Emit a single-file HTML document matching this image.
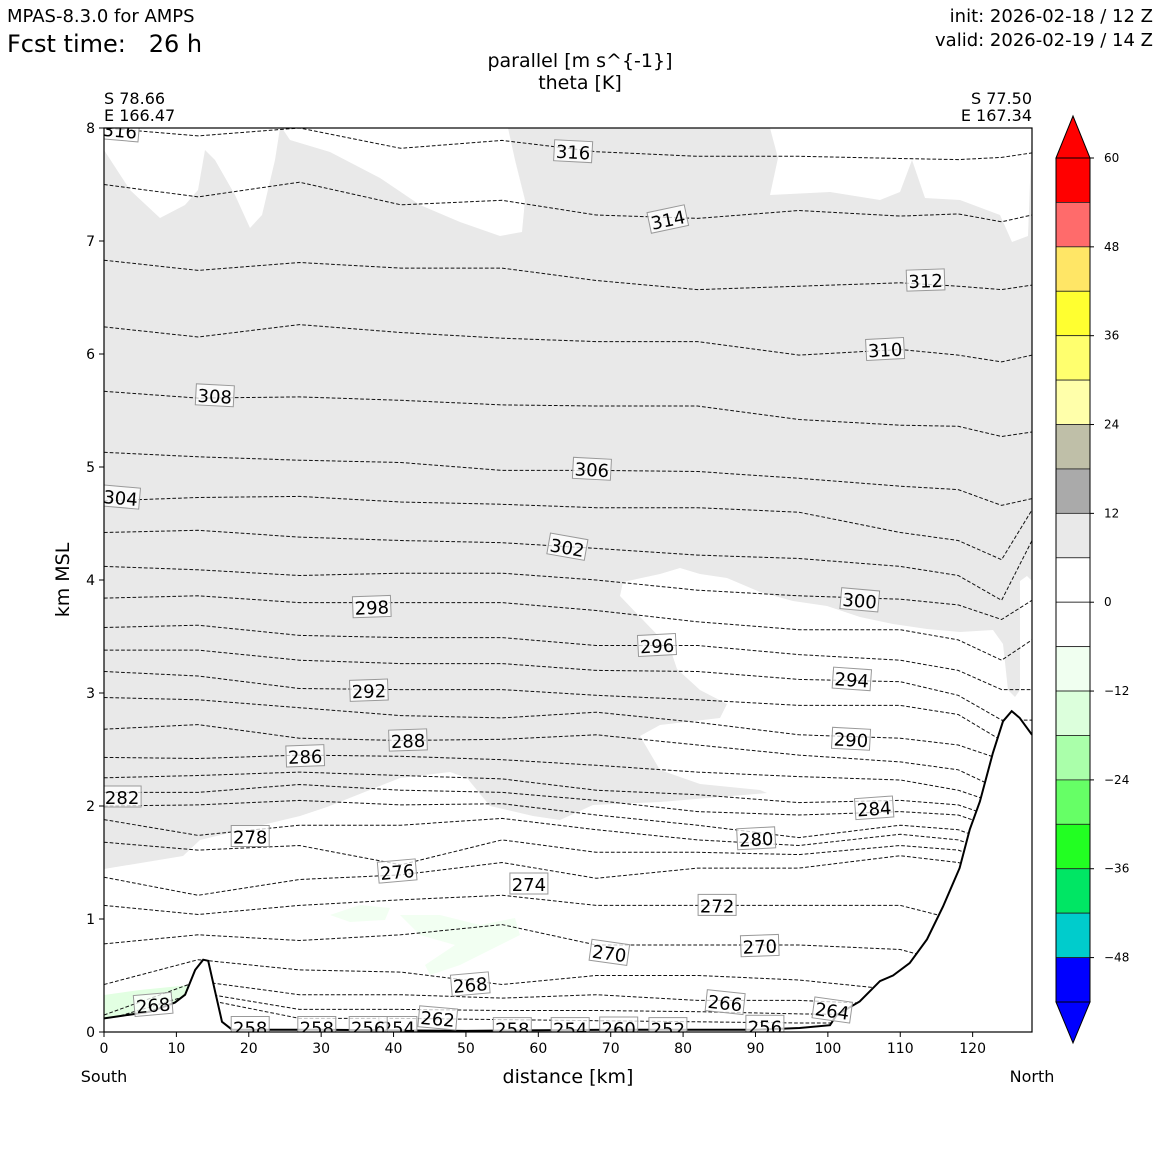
<!DOCTYPE html>
<html><head><meta charset="utf-8"><style>
body{margin:0;background:#fff;}
svg{display:block;font-family:"DejaVu Sans","Liberation Sans",sans-serif;}
</style></head><body>
<svg id="chart" width="1160" height="1160" viewBox="0 0 1160 1160">
<text x="7" y="22" font-size="18">MPAS-8.3.0 for AMPS</text>
<text x="7" y="52" font-size="24" xml:space="preserve">Fcst time:   26 h</text>
<text x="1153" y="22" font-size="18" text-anchor="end">init: 2026-02-18 / 12 Z</text>
<text x="1153" y="46" font-size="18" text-anchor="end">valid: 2026-02-19 / 14 Z</text>
<text x="580" y="67" font-size="19" text-anchor="middle">parallel [m s^{-1}]</text>
<text x="580" y="89" font-size="19" text-anchor="middle">theta [K]</text>
<text x="104" y="104" font-size="16">S 78.66</text>
<text x="104" y="121" font-size="16">E 166.47</text>
<text x="1032" y="104" font-size="16" text-anchor="end">S 77.50</text>
<text x="1032" y="121" font-size="16" text-anchor="end">E 167.34</text>
<text x="69" y="580" font-size="19" text-anchor="middle" transform="rotate(-90 69 580)">km MSL</text>
<text x="568" y="1083" font-size="19" text-anchor="middle">distance [km]</text>
<text x="104" y="1082" font-size="16" text-anchor="middle">South</text>
<text x="1032" y="1082" font-size="16" text-anchor="middle">North</text>
<g id="plot"></g>
<g id="axes"></g>
<g id="cbar"></g>
</svg>
<script>
// ---- data ----
const colX = [0,13,27,41,55,68,82,96,110,118,124,128.2];
const thetaLevels = [316,314,312,310,308,306,304,302,300,298,296,294,292,290,288,286,284,282,280,278,276,274,272,270,268,266,264,262];
const theta316 = [8.0,7.93,8.0,7.82,7.89,7.79,7.75,7.75,7.73,7.72,7.74,7.78];
const theta314 = [7.50,7.39,7.52,7.32,7.36,7.23,7.20,7.27,7.22,7.24,7.17,7.23];
const theta312 = [6.83,6.74,6.81,6.76,6.76,6.65,6.57,6.60,6.63,6.60,6.57,6.61];
const theta310 = [6.24,6.15,6.26,6.19,6.14,6.11,6.11,5.99,6.04,5.99,5.93,5.99];
const theta308 = [5.67,5.61,5.62,5.59,5.55,5.54,5.54,5.42,5.37,5.36,5.27,5.31];
const theta306 = [5.13,5.09,5.06,5.04,4.97,4.97,4.96,4.90,4.83,4.80,4.66,4.72];
const theta304 = [4.70,4.73,4.74,4.69,4.67,4.64,4.64,4.60,4.42,4.35,4.18,4.62];
const theta302 = [4.42,4.44,4.38,4.35,4.33,4.28,4.22,4.19,4.12,4.04,3.82,4.35];
const theta300 = [4.12,4.09,4.04,4.06,4.06,4.00,3.91,3.86,3.83,3.78,3.65,3.82];
const theta298 = [3.84,3.86,3.80,3.80,3.80,3.73,3.63,3.56,3.56,3.47,3.29,3.47];
const theta296 = [3.58,3.60,3.51,3.49,3.49,3.42,3.42,3.34,3.29,3.20,3.03,3.03];
const theta294 = [3.38,3.38,3.29,3.26,3.26,3.20,3.19,3.12,3.10,2.98,2.76,2.76];
const theta292 = [3.19,3.15,3.04,3.03,3.03,2.98,2.94,2.89,2.89,2.81,2.58,2.55];
const theta290 = [2.96,2.94,2.87,2.80,2.78,2.83,2.74,2.63,2.60,2.54,2.41,2.40];
const theta288 = [2.68,2.72,2.60,2.58,2.59,2.63,2.54,2.45,2.39,2.32,2.14,2.10];
const theta286 = [2.43,2.42,2.45,2.44,2.41,2.36,2.30,2.26,2.23,2.14,2.01,2.00];
const theta284 = [2.25,2.27,2.30,2.27,2.24,2.14,2.10,2.03,2.05,2.01,1.88,1.85];
const theta282 = [2.12,2.12,2.19,2.14,2.12,2.05,1.95,1.92,1.95,1.92,1.79,1.75];
const theta280 = [2.00,2.01,2.05,2.01,2.02,1.92,1.83,1.72,1.83,1.79,1.65,1.60];
const theta278 = [1.88,1.74,1.83,1.83,1.89,1.79,1.70,1.65,1.75,1.70,1.57,1.50];
const theta276 = [1.68,1.61,1.65,1.48,1.70,1.59,1.59,1.57,1.65,1.61,1.48,1.40];
const theta274 = [1.37,1.21,1.35,1.39,1.50,1.36,1.45,1.45,1.56,1.50,1.39,1.30];
const theta272 = [1.12,1.04,1.12,1.17,1.21,1.12,1.12,1.12,1.12,0.99,0.90,0.90];
const theta270 = [0.78,0.86,0.81,0.86,0.95,0.77,0.77,0.77,0.73,0.59,0.55,0.50];
const theta268 = [0.42,0.64,0.55,0.53,0.42,0.50,0.50,0.46,0.37,0.28,0.25,0.25];
const theta266 = [0.15,0.45,0.33,0.33,0.30,0.33,0.28,0.28,0.24,0.20,0.20,0.20];
const theta264 = [0.10,0.35,0.20,0.20,0.19,0.19,0.18,0.16,0.15,0.12,0.12,0.12];
const theta262 = [0.08,0.30,0.12,0.12,0.11,0.10,0.09,0.08,0.08,0.08,0.08,0.08];
const thetaSeries = [theta316,theta314,theta312,theta310,theta308,theta306,theta304,theta302,theta300,theta298,theta296,theta294,theta292,theta290,theta288,theta286,theta284,theta282,theta280,theta278,theta276,theta274,theta272,theta270,theta268,theta266,theta264,theta262];
const terrainX = [0,6.4,9.8,11.2,12.6,13.7,14.4,15.3,16.3,17.7,30,50,70,90,96.1,100.3,101.2,104.4,107.2,109,111.3,113.7,115.9,118.2,119.6,121,122.8,124.2,125.4,126.5,128.2];
const terrainH = [0.12,0.18,0.26,0.33,0.55,0.64,0.63,0.37,0.09,0.02,0.02,0.01,0.02,0.02,0.035,0.06,0.15,0.27,0.45,0.50,0.61,0.82,1.11,1.45,1.79,2.04,2.47,2.75,2.84,2.78,2.63];
const labelText = ["316","316","314","312","310","308","306","304","302","300","298","296","294","292","290","288","286","284","282","280","278","276","274","272","270","270","268","268","266","264","262","258","258","254","256","258","254","260","252","256"];
const labelX = [2.2,64.8,77.9,113.5,107.9,15.3,67.4,2.3,64.0,104.4,37.0,76.4,103.3,36.6,103.2,42.0,27.8,106.4,2.5,90.1,20.2,40.5,58.7,84.7,69.8,90.6,50.6,6.8,85.8,100.6,46.1,20.2,29.4,40.6,36.5,56.4,64.4,71.1,77.9,91.3];
const labelY = [7.98,7.79,7.19,6.65,6.04,5.63,4.98,4.73,4.29,3.82,3.76,3.42,3.12,3.02,2.59,2.58,2.44,1.98,2.08,1.71,1.73,1.42,1.31,1.12,0.70,0.76,0.42,0.24,0.26,0.19,0.12,0.04,0.04,0.04,0.04,0.03,0.03,0.035,0.03,0.05];
const labelRot = [5,3,-12,-2,-3,3,3,5,10,5,-2,-3,4,-2,3,-2,-2,-4,0,-3,0,-5,0,0,8,-2,-5,-5,6,8,5,0,0,0,0,0,0,0,0,0];
const xTicks = [0,10,20,30,40,50,60,70,80,90,100,110,120];
const yTicks = [0,1,2,3,4,5,6,7,8];
const cbarLevels = [60,54,48,42,36,30,24,18,12,6,0,-6,-12,-18,-24,-30,-36,-42,-48,-54];
const cbarColors = ["#ff0000","#ff6b6b","#ffe666","#ffff30","#ffff6e","#ffffaa","#bfbfa8","#aaaaaa","#e9e9e9","#ffffff","#ffffff","#f0fff0","#dcffdc","#aaffaa","#66ff66","#22ff22","#00e664","#00cccc","#0000ff"];
const cbarTicks = [60,48,36,24,12,0,-12,-24,-36,-48];

// ---- scales ----
const X0=104,X1=1032,Y0=1032,Y1=128,XMAX=128.2,YMAX=8;
const sx = v => X0 + v*(X1-X0)/XMAX;
const sy = v => Y0 - v*(Y0-Y1)/YMAX;
const NS="http://www.w3.org/2000/svg";
function mk(tag, attrs, parent){const e=document.createElementNS(NS,tag);for(const k in attrs)e.setAttribute(k,attrs[k]);parent.appendChild(e);return e;}
const plot=document.getElementById('plot');
const axes=document.getElementById('axes');
const cbar=document.getElementById('cbar');

const defs=mk('defs',{},plot);
const cp=mk('clipPath',{id:'pc'},defs);
mk('rect',{x:X0,y:Y1,width:X1-X0,height:Y0-Y1},cp);
const g=mk('g',{'clip-path':'url(#pc)'},plot);

const bg=mk('rect',{x:X0,y:Y1,width:X1-X0,height:Y0-Y1,fill:'#e9e9e9'},g);


const whites=[
 "104,128 104,150 130,190 160,218 185,205 198,190 205,150 215,160 235,195 250,228 262,215 275,160 280,128",
 "282,128 290,140 330,152 380,178 420,205 460,222 500,236 522,232 525,200 515,160 508,128",
 "770,128 778,158 770,195 830,192 880,200 900,192 912,160 925,198 960,200 1000,215 1012,242 1028,236 1032,128",
 "104,869 183,856 200,840 300,816 327,807 400,778 450,772 467,778 490,806 533,816 560,820 593,805 660,802 767,793 760,790 700,784 660,770 640,736 660,725 720,718 727,704 700,690 677,669 670,648 643,620 620,596 623,582 660,574 680,568 700,574 727,578 760,592 793,601 827,606 860,617 893,624 927,629 960,632 993,630 1003,644 1008,690 1015,697 1020,690 1020,581 1027,576 1032,581 1032,1032 104,1032"
];
whites.forEach((p,i)=>{const e=mk('polygon',{points:p,fill:'#ffffff'},g);
 
 });
const greens=[
 ["104,995 140,990 190,985 205,990 200,1005 150,1012 104,1018","#e2ffe2"],
 ["330,915 360,905 390,908 385,920 350,922","#f2fff2"],
 ["400,915 440,915 480,925 515,918 520,935 490,950 460,965 430,975 425,965 455,945 420,935","#f2fff2"]
];
greens.forEach((p,i)=>{const e=mk('polygon',{points:p[0],fill:p[1]},g);
 
 });

thetaSeries.forEach((arr,i)=>{
 const pts=arr.map((v,j)=>sx(colX[j]).toFixed(1)+','+sy(v).toFixed(1)).join(' ');
 const e=mk('polyline',{points:pts,fill:'none',stroke:'#111','stroke-width':1,'stroke-dasharray':'3.7,2'},g);
 
 
});

let tp=terrainX.map((v,j)=>sx(v).toFixed(1)+','+sy(terrainH[j]).toFixed(1)).join(' ');
const tf=mk('polygon',{points:sx(0)+','+Y0+' '+tp+' '+sx(XMAX)+','+Y0,fill:'#fff'},g);


const tl=mk('polyline',{points:tp,fill:'none',stroke:'#000','stroke-width':2},g);



labelText.forEach((t,i)=>{
 const cx=sx(labelX[i]),cy=sy(labelY[i]);
 const lg=mk('g',{transform:'translate('+cx.toFixed(1)+','+cy.toFixed(1)+') rotate('+labelRot[i]+')'},g);
 
 
 mk('rect',{x:-19,y:-11,width:38,height:21,fill:'rgba(255,255,255,0.75)',stroke:'#999','stroke-width':1},lg);
 const tx=mk('text',{x:0,y:7,'font-size':18,'text-anchor':'middle',fill:'#000'},lg);
 tx.textContent=t;
});

const fr=mk('rect',{x:X0,y:Y1,width:X1-X0,height:Y0-Y1,fill:'none',stroke:'#000','stroke-width':1.2},axes);


xTicks.forEach(v=>{const x=sx(v);
 mk('line',{x1:x,y1:Y0,x2:x,y2:Y0+5,stroke:'#000'},axes);
 const t=mk('text',{x:x,y:Y0+21,'font-size':14,'text-anchor':'middle'},axes);
 
 
 t.textContent=v;});
yTicks.forEach(v=>{const y=sy(v);
 mk('line',{x1:X0-5,y1:y,x2:X0,y2:y,stroke:'#000'},axes);
 const t=mk('text',{x:X0-9,y:y+5,'font-size':14,'text-anchor':'end'},axes);
 
 
 t.textContent=v;});

const CX=1056,CW=34,CT=158,CB=1002;
const cy=v=>CT+(60-v)*(CB-CT)/114;
const tri1=mk('polygon',{points:CX+','+CT+' '+(CX+CW/2)+',116 '+(CX+CW)+','+CT,fill:'#ff0000',stroke:'#000'},cbar);


const tri2=mk('polygon',{points:CX+','+CB+' '+(CX+CW/2)+',1043 '+(CX+CW)+','+CB,fill:'#0000ff',stroke:'#000'},cbar);


cbarColors.forEach((c,i)=>{
 const y0=cy(cbarLevels[i]),y1=cy(cbarLevels[i+1]);
 const r=mk('rect',{x:CX,y:y0,width:CW,height:y1-y0,fill:c,stroke:'#222','stroke-width':0.8},cbar);
 
 
});
mk('rect',{x:CX,y:CT,width:CW,height:CB-CT,fill:'none',stroke:'#000','stroke-width':1},cbar);
cbarTicks.forEach(v=>{const y=cy(v);
 mk('line',{x1:CX+CW,y1:y,x2:CX+CW+4,y2:y,stroke:'#000'},cbar);
 const t=mk('text',{x:CX+CW+14,y:y+4,'font-size':12},cbar);
 
 
 t.textContent=v<0?'\u2212'+Math.abs(v):v;});
</script>
</body></html>
